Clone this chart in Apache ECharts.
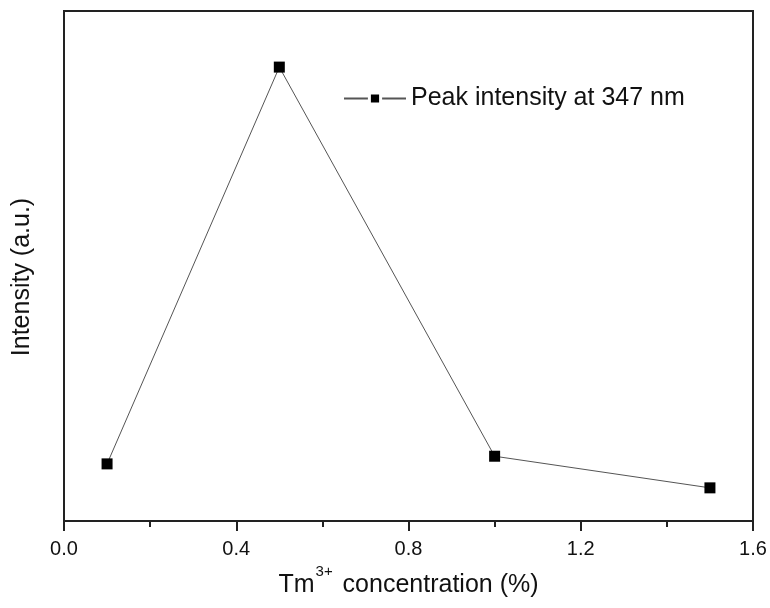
<!DOCTYPE html>
<html>
<head>
<meta charset="utf-8">
<script src="https://cdn.jsdelivr.net/npm/echarts@6/dist/echarts.min.js"></script>
<style>
  html, body { margin: 0; padding: 0; background: #fff; }
  #chart { width: 770px; height: 608px; }
</style>
</head>
<body>
<div id="chart"></div>
<script>
// Tm3+ concentration (%) and peak intensity (a.u., 0-100 scale)
const concentration = [0.1, 0.5, 1.0, 1.5]
const intensity = [11.2, 89.0, 12.7, 6.5]
const xTicks = [0.0, 0.4, 0.8, 1.2, 1.6]

const font = 'Liberation Sans, Arial, sans-serif'
const axisColor = '#222'

const points = concentration.map((c, i) => [c, intensity[i]])

const chart = echarts.init(document.getElementById('chart'))

const option = {
  animation: false,
  backgroundColor: '#fff',
  textStyle: { fontFamily: font },
  grid: {
    left: 64,
    right: 17,
    top: 11,
    bottom: 87,
    outerBoundsMode: 'none',
    show: true,
    borderColor: axisColor,
    borderWidth: 2
  },
  legend: {
    left: 338,
    top: 81,
    itemWidth: 62,
    itemHeight: 14,
    textStyle: { fontFamily: font, fontSize: 25, color: '#111' },
    itemStyle: { borderColor: '#fff', borderWidth: 3 }
  },
  xAxis: {
    type: 'value',
    min: 0,
    max: 1.6,
    interval: 0.4,
    splitLine: { show: false },
    axisLine: { lineStyle: { color: axisColor, width: 2 } },
    axisTick: { length: 10, lineStyle: { color: axisColor, width: 2 } },
    minorTick: { show: true, splitNumber: 2, length: 6, lineStyle: { color: axisColor, width: 2 } },
    axisLabel: {
      margin: 18,
      fontSize: 20,
      color: '#111',
      fontFamily: font,
      formatter: (v) => {
        // only the tick labels from the list
        const hit = xTicks.find(t => Math.abs(t - v) < 1e-6)
        return hit === undefined ? '' : hit.toFixed(1)
      }
    },
    name: '{a|Tm}{s|3+}{a| concentration (%)}',
    nameLocation: 'middle',
    nameGap: 50,
    nameTextStyle: {
      rich: {
        a: { fontSize: 25, fontFamily: font, color: '#111', lineHeight: 28 },
        // superscript pushed up with bottom padding
        s: { fontSize: 15, fontFamily: font, color: '#111', lineHeight: 15, padding: [0, 3, 26, 1] }
      }
    }
  },
  yAxis: {
    type: 'value',
    min: 0,
    max: 100,
    splitLine: { show: false },
    axisLine: { show: true, lineStyle: { color: axisColor, width: 2 } },
    axisTick: { show: false },
    axisLabel: { show: false },
    name: 'Intensity (a.u.)',
    nameLocation: 'middle',
    nameGap: 29,
    nameTextStyle: { fontSize: 25, fontFamily: font, color: '#111', padding: [0, 22, 0, 0] }
  },
  series: [{
    name: 'Peak intensity at 347 nm',
    type: 'line',
    data: points,
    symbol: 'rect',
    symbolSize: 11,
    itemStyle: { color: '#000' },
    lineStyle: { color: '#555', width: 1 }
  }]
}

chart.setOption(option)
</script>
</body>
</html>
